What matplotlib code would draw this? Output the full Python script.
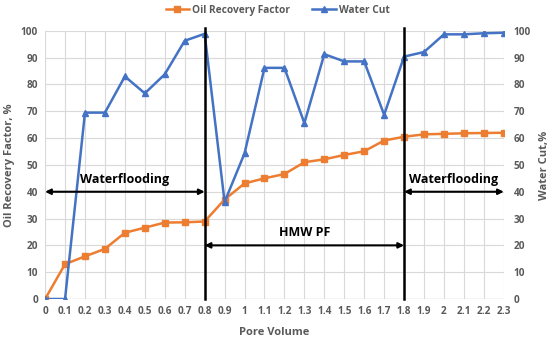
import matplotlib.pyplot as plt
import numpy as np

plt.rcParams['font.family'] = ['Open Sans', 'DejaVu Sans']

# data
pore_volume = [0, 0.1, 0.2, 0.3, 0.4, 0.5, 0.6, 0.7, 0.8, 0.9, 1.0, 1.1,
               1.2, 1.3, 1.4, 1.5, 1.6, 1.7, 1.8, 1.9, 2.0, 2.1, 2.2, 2.3]
oil_recovery = [0, 13, 15.9, 18.7, 24.7, 26.6, 28.5, 28.6, 28.9, 37.1, 43.1, 45,
                46.6, 51, 52.1, 53.7, 55.1, 59.1, 60.5, 61.4, 61.6, 61.8, 61.9, 62]
water_cut = [0, 0, 69.5, 69.5, 83, 76.7, 83.8, 96.3, 98.9, 36.2, 54.3, 86.2,
             86.2, 65.6, 91.3, 88.6, 88.6, 68.7, 90.4, 92.1, 98.7, 98.7, 99.1, 99.3]
x_ticks = [0, 0.1, 0.2, 0.3, 0.4, 0.5, 0.6, 0.7, 0.8, 0.9, 1, 1.1, 1.2,
           1.3, 1.4, 1.5, 1.6, 1.7, 1.8, 1.9, 2, 2.1, 2.2, 2.3]
stage_bounds = [0.8, 1.8]

orange = '#ED7D31'
blue = '#4472C4'
gray = '#595959'

fig = plt.figure(figsize=(5.5, 3.39), dpi=100)
ax = fig.add_axes([0.082, 0.118, 0.834, 0.791])

ax.plot(pore_volume, oil_recovery, color=orange, marker='s', markersize=4,
        lw=1.8, label='Oil Recovery Factor', zorder=3)
ax.plot(pore_volume, water_cut, color=blue, marker='^', markersize=4.5,
        lw=1.8, label='Water Cut', zorder=3)

ax.set_xlim(0, 2.3)
ax.set_ylim(0, 100)
ax.set_xticks(x_ticks)
ax.set_xticklabels([f'{t:g}' for t in x_ticks])
ax.set_yticks(np.arange(0, 101, 10))
ax.grid(True, color='#d9d9d9', lw=0.8)
ax.set_axisbelow(True)
for s in ax.spines.values():
    s.set_visible(False)
ax.axhline(0, color='#d9d9d9', lw=1, zorder=1)
ax.tick_params(length=0, labelsize=7.2, labelcolor=gray, pad=5)
for lbl in ax.get_xticklabels() + ax.get_yticklabels():
    lbl.set_fontweight('bold')

ax2 = ax.twinx()
ax2.set_ylim(0, 100)
ax2.set_yticks(np.arange(0, 101, 10))
for s in ax2.spines.values():
    s.set_visible(False)
ax2.tick_params(length=0, labelsize=7.2, labelcolor=gray, pad=7)
for lbl in ax2.get_yticklabels():
    lbl.set_fontweight('bold')

ax.set_xlabel('Pore Volume', fontsize=8, color=gray, fontweight='bold', labelpad=7)
ax.set_ylabel('Oil Recovery Factor, %', fontsize=8, color=gray, fontweight='bold', labelpad=4)
ax2.set_ylabel('Water Cut,%', fontsize=8, color=gray, fontweight='bold', labelpad=6)

# stage boundaries
for b in stage_bounds:
    ax.plot([b, b], [0, 101], color='black', lw=1.8, zorder=4, clip_on=False)

arrow = dict(arrowstyle='<|-|>', color='black', lw=1.5, mutation_scale=8,
             shrinkA=0, shrinkB=0)
ax.annotate('', xy=(0, 40), xytext=(0.8, 40), arrowprops=arrow, zorder=5)
ax.annotate('', xy=(0.8, 20), xytext=(1.8, 20), arrowprops=arrow, zorder=5)
ax.annotate('', xy=(1.8, 40), xytext=(2.3, 40), arrowprops=arrow, zorder=5)
ax.text(0.4, 44.7, 'Waterflooding', ha='center', va='center', fontsize=9, fontweight='bold')
ax.text(1.3, 24.7, 'HMW PF', ha='center', va='center', fontsize=9, fontweight='bold')
ax.text(2.05, 44.7, 'Waterflooding', ha='center', va='center', fontsize=9, fontweight='bold')

leg = fig.legend(loc='upper center', bbox_to_anchor=(0.505, 1.013), ncol=2, frameon=False,
                 fontsize=7.3, handlelength=2.3, handletextpad=0.3, columnspacing=2.2)
for t in leg.get_texts():
    t.set_color(gray)
    t.set_fontweight('bold')

fig.savefig('out.png', dpi=100)
